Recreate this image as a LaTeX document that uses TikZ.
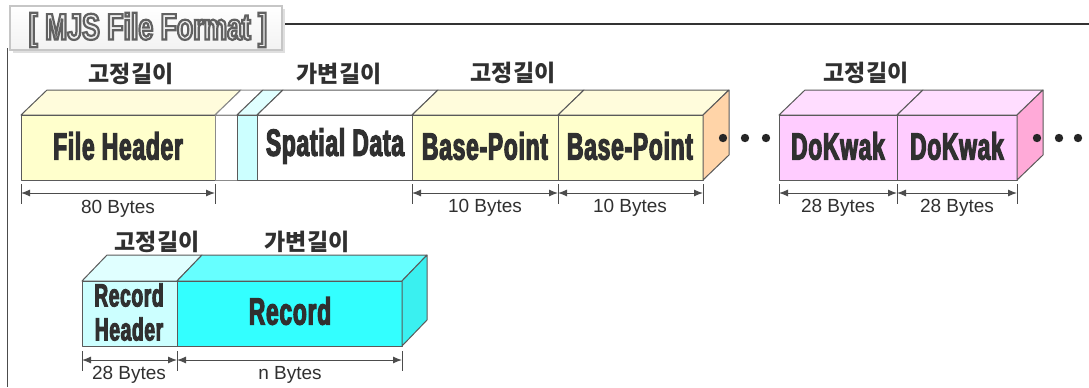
\documentclass[tikz,border=0pt]{standalone}
\usepackage{fontspec}
\usetikzlibrary{arrows.meta}

\setmainfont{Liberation Sans}
\newfontfamily\krfont{Noto Sans CJK KR}
\newfontfamily\blockfont[FakeStretch=0.6,LetterSpace=2,BoldFeatures={FakeBold=3}]{Liberation Sans}
\newfontfamily\titlefont[FakeStretch=0.72]{Liberation Sans}

\definecolor{edge}{HTML}{5A5A5A}
\definecolor{ink}{HTML}{303030}
\definecolor{yelfront}{HTML}{FFFFCC}
\definecolor{yeltop}{HTML}{FFFCDC}
\definecolor{yelside}{HTML}{FFD4A8}
\definecolor{pinkfront}{HTML}{FFCCFF}
\definecolor{pinktop}{HTML}{FFDDFF}
\definecolor{pinkside}{HTML}{FFAAD8}
\definecolor{paleblue}{HTML}{CCFFFF}
\definecolor{palebluetop}{HTML}{E0FFFF}
\definecolor{cyanfront}{HTML}{33FFFF}
\definecolor{cyantop}{HTML}{66FFFF}
\definecolor{cyanside}{HTML}{3AF0F0}

% outlined lettering: light fill, grey stroke
\newcommand\outlined[1]{\textcolor{gray!12}{\special{pdf:literal direct 0.38 G 1.1 w 2 Tr}#1\special{pdf:literal direct 0 Tr}}}

\tikzset{
  face/.style={draw=edge, line width=0.5pt, line join=round},
  blocklabel/.style={text=ink, inner sep=0pt, align=center,
    font=\blockfont\bfseries\fontsize{19}{19}\selectfont},
  krlabel/.style={text=ink, inner sep=0pt, font=\krfont\bfseries\fontsize{11.5}{12}\selectfont},
  bytes/.style={text=ink, inner sep=0pt, font=\fontsize{9.5}{10}\selectfont},
  dim/.style={draw=black!70, line width=0.5pt,
    {Latex[length=4.5pt,width=3.5pt]}-{Latex[length=4.5pt,width=3.5pt]}},
  tick/.style={draw=black!70, line width=0.5pt},
  dot/.style={fill=black!85},
}

\begin{document}
\begin{tikzpicture}[x=0.5pt, y=-0.5pt]
  \useasboundingbox (0,0) rectangle (1089,387);

  % title tab and frame lines
  \draw[gray!60!black, line width=0.5pt] (7.5,48) -- (7.5,387);
  \draw[black!80, line width=0.6pt] (282,24) -- (1089,24);
  \fill[gray!25] (13,9) rectangle (285,53);
  \draw[draw=gray!45, line width=1pt, top color=white, bottom color=gray!10] (10,6) rectangle (282,50);
  \node[inner sep=0pt, font=\titlefont\bfseries\fontsize{18.5}{19}\selectfont] (title) at (148,30)
    {\outlined{[ MJS File Format ]}};

  % ---- first row: file layout ----
  % File Header
  \filldraw[face, fill=yeltop] (21,115) -- (47,90) -- (241,90) -- (215,115) -- cycle;
  \filldraw[face, fill=yelfront] (21,115) rectangle (215,180);
  % gap strips
  \filldraw[face, draw=edge!70, fill=white] (215,115) -- (241,90) -- (263,90) -- (237,115) -- cycle;
  \filldraw[face, draw=edge!70, fill=white] (215,115) rectangle (237,180);
  \filldraw[face, fill=palebluetop] (237,115) -- (263,90) -- (283,90) -- (257,115) -- cycle;
  \filldraw[face, fill=paleblue] (237,115) rectangle (257,180);
  % Spatial Data
  \filldraw[face, fill=white] (257,115) -- (283,90) -- (438,90) -- (412,115) -- cycle;
  \filldraw[face, fill=white] (257,115) rectangle (412,180);
  % Base-Point x2
  \filldraw[face, fill=yeltop] (412,115) -- (438,90) -- (584,90) -- (558,115) -- cycle;
  \filldraw[face, fill=yeltop] (558,115) -- (584,90) -- (729,90) -- (703,115) -- cycle;
  \filldraw[face, fill=yelfront] (412,115) rectangle (558,180);
  \filldraw[face, fill=yelfront] (558,115) rectangle (703,180);
  \filldraw[face, fill=yelside] (703,115) -- (729,90) -- (729,155) -- (703,180) -- cycle;
  % DoKwak x2
  \filldraw[face, fill=pinktop] (779,115) -- (805,90) -- (923,90) -- (897,115) -- cycle;
  \filldraw[face, fill=pinktop] (897,115) -- (923,90) -- (1043,90) -- (1017,115) -- cycle;
  \filldraw[face, fill=pinkfront] (779,115) rectangle (897,180);
  \filldraw[face, fill=pinkfront] (897,115) rectangle (1017,180);
  \filldraw[face, fill=pinkside] (1017,115) -- (1043,90) -- (1043,155) -- (1017,180) -- cycle;

  \node[blocklabel] (fh) at (118,146) {File Header};
  \node[blocklabel] (sd) at (335,146) {Spatial Data};
  \node[blocklabel] (bp1) at (485,146) {Base-Point};
  \node[blocklabel] (bp2) at (630,146) {Base-Point};
  \node[blocklabel] (dk1) at (838,146) {DoKwak};
  \node[blocklabel] (dk2) at (957,146) {DoKwak};

  \node[krlabel] (fix1) at (131,74) {고정길이};
  \node[krlabel] (var1) at (339,74) {가변길이};
  \node[krlabel] (fix2) at (513,73) {고정길이};
  \node[krlabel] (fix3) at (866,73) {고정길이};

  % continuation dots
  \foreach \x in {723,745,766,1037,1059,1078}
    \fill[dot] (\x,138) circle [radius=2.1pt];

  % sizes, first row
  \foreach \x in {21,215,412,558,703,779,897,1017}
    \draw[tick] (\x,184) -- (\x,204);
  \coordinate (a0) at (21,193);  \coordinate (a1) at (215,193);
  \coordinate (b0) at (412,193); \coordinate (b1) at (558,193); \coordinate (b2) at (703,193);
  \coordinate (c0) at (779,193); \coordinate (c1) at (897,193); \coordinate (c2) at (1017,193);
  \draw[dim] (a0) -- (a1);
  \draw[dim] (b0) -- (b1);
  \draw[dim] (b1) -- (b2);
  \draw[dim] (c0) -- (c1);
  \draw[dim] (c1) -- (c2);
  \node[bytes] (s80) at (118,209) {80 Bytes};
  \node[bytes] (s10a) at (485,208) {10 Bytes};
  \node[bytes] (s10b) at (630,208) {10 Bytes};
  \node[bytes] (s28a) at (838,208) {28 Bytes};
  \node[bytes] (s28b) at (957,208) {28 Bytes};

  % ---- second row: record layout ----
  \filldraw[face, fill=palebluetop] (82,281) -- (107,255) -- (202,255) -- (177,281) -- cycle;
  \filldraw[face, fill=paleblue] (82,281) rectangle (177,346);
  \filldraw[face, fill=cyantop] (177,281) -- (202,255) -- (427,255) -- (402,281) -- cycle;
  \filldraw[face, fill=cyanfront] (177,281) rectangle (402,346);
  \filldraw[face, fill=cyanside] (402,281) -- (427,255) -- (427,320) -- (402,346) -- cycle;

  \node[blocklabel, font=\blockfont\bfseries\fontsize{16}{17}\selectfont] (rh) at (129,312)
    {Record\\Header};
  \node[blocklabel] (rec) at (290,311) {Record};

  \node[krlabel] (fix4) at (157,242) {고정길이};
  \node[krlabel] (var2) at (307,242) {가변길이};

  \foreach \x in {82,177,402}
    \draw[tick] (\x,351) -- (\x,371);
  \coordinate (r0) at (82,360); \coordinate (r1) at (177,360); \coordinate (r2) at (402,360);
  \draw[dim] (r0) -- (r1);
  \draw[dim] (r1) -- (r2);
  \node[bytes] (s28c) at (129,375) {28 Bytes};
  \node[bytes] (sn) at (290,375) {n Bytes};
\end{tikzpicture}
\end{document}
